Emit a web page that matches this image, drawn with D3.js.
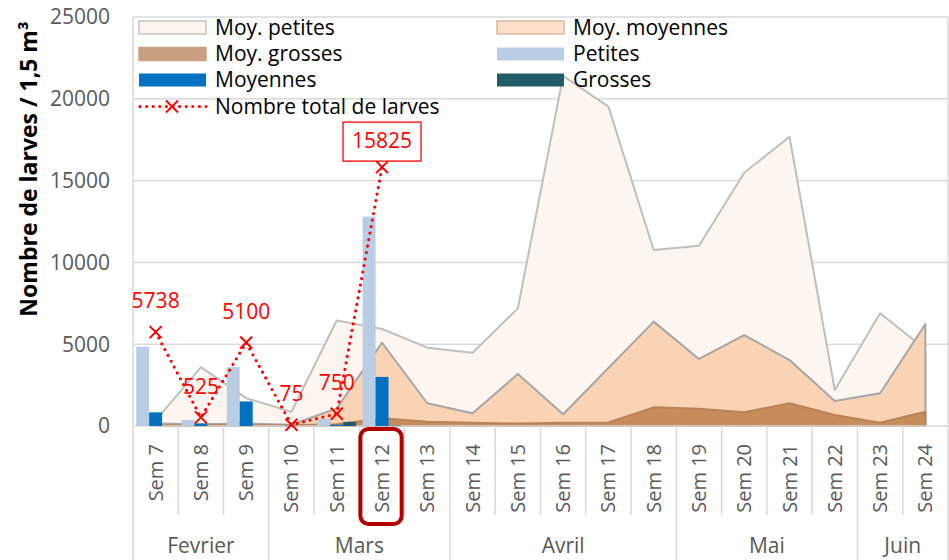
<!DOCTYPE html>
<html>
<head>
<meta charset="utf-8">
<title>Larves</title>
<style>
  body { margin: 0; background: #fff; }
  svg { display: block; font-family: "Open Sans", "Liberation Sans", sans-serif; }
</style>
</head>
<body>
<svg width="949" height="560"></svg>
<script src="https://cdn.jsdelivr.net/npm/d3@7"></script>
<script>
// données
const weeks = ["Sem 7","Sem 8","Sem 9","Sem 10","Sem 11","Sem 12","Sem 13","Sem 14","Sem 15",
  "Sem 16","Sem 17","Sem 18","Sem 19","Sem 20","Sem 21","Sem 22","Sem 23","Sem 24"]
const monthNames = ["Fevrier","Mars","Avril","Mai","Juin"]
const monthWeeks = [3, 4, 5, 4, 2]

const moyPetites = [350, 3600, 1700, 870, 6450, 5930, 4790, 4480, 7190, 21400, 19520, 10760, 11020, 15480, 17680, 2200, 6890, 4690]
const moyMoyennes = [150, 100, 150, 80, 1080, 5090, 1390, 775, 3180, 715, 3545, 6380, 4100, 5560, 4030, 1530, 2000, 6230]
const moyGrosses = [50, 50, 50, 50, 100, 470, 260, 200, 150, 200, 220, 1140, 1060, 840, 1390, 670, 200, 875]

// barres : seulement Sem 7 à Sem 12
const barWeeks = ["Sem 7","Sem 8","Sem 9","Sem 10","Sem 11","Sem 12"]
const petites = [4850, 375, 3600, 50, 425, 12800]
const moyennes = [835, 150, 1500, 25, 75, 3000]
const grosses = [0, 0, 0, 0, 250, 25]
const totalLarves = [5738, 525, 5100, 75, 750, 15825]

const yTicks = [0, 5000, 10000, 15000, 20000, 25000]

const svg = d3.select("svg")
const pLeft = 133, pRight = 948, pTop = 17, pBottom = 426
const grid = "#d9d9d9"
const fs = 21

let x = d3.scaleBand().domain(weeks).range([pLeft, pRight])
let y = d3.scaleLinear().domain([0, 25000]).range([pBottom, pTop])
let xc = w => x(w) + x.bandwidth() / 2
let xs = d3.scaleBand().domain(["p", "m", "g"]).range([3.2, x.bandwidth() - 3.2])

// grille
svg.append("g").selectAll("line").data(yTicks.slice(1)).enter().append("line")
  .attr("x1", pLeft).attr("x2", pRight)
  .attr("y1", d => y(d)).attr("y2", d => y(d))
  .attr("stroke", grid).attr("stroke-width", 1.5)
svg.append("line").attr("x1", pRight).attr("x2", pRight).attr("y1", pTop).attr("y2", pBottom)
  .attr("stroke", grid).attr("stroke-width", 1.5)
svg.append("line").attr("x1", pLeft).attr("x2", pLeft).attr("y1", pTop).attr("y2", pBottom)
  .attr("stroke", grid).attr("stroke-width", 1.5)

// aires (superposées, pas empilées)
let areaMkr = d3.area().x((d, i) => xc(weeks[i])).y0(y(0)).y1(d => y(d))
let areas = [
  { v: moyPetites, fill: "#fdf5ef", stroke: "#bfbfbf" },
  { v: moyMoyennes, fill: "#f9d3b3", stroke: "#a6a6a6" },
  { v: moyGrosses, fill: "#c78c5b", stroke: "#b98358" }
]
svg.append("g").selectAll("path").data(areas).enter().append("path")
  .attr("d", d => areaMkr(d.v))
  .attr("fill", d => d.fill)
  .attr("stroke", d => d.stroke)
  .attr("stroke-width", 2)
  .attr("stroke-linejoin", "round")

// axe des abscisses
svg.append("line").attr("x1", pLeft).attr("x2", pRight).attr("y1", pBottom).attr("y2", pBottom)
  .attr("stroke", grid).attr("stroke-width", 1.5)

// barres groupées
let bars = [
  { v: petites, k: "p", fill: "#b9cde5" },
  { v: moyennes, k: "m", fill: "#0070c0" },
  { v: grosses, k: "g", fill: "#215a68" }
]
bars.forEach(s => {
  svg.append("g").selectAll("rect").data(s.v).enter().append("rect")
    .attr("x", (d, i) => x(barWeeks[i]) + xs(s.k))
    .attr("width", xs.bandwidth())
    .attr("y", d => y(d))
    .attr("height", d => y(0) - y(d))
    .attr("fill", s.fill)
})

// nombre total
let lineMkr = d3.line().x((d, i) => xc(barWeeks[i])).y(d => y(d))
svg.append("path").attr("d", lineMkr(totalLarves))
  .attr("fill", "none").attr("stroke", "#ff0000").attr("stroke-width", 3.2)
  .attr("stroke-dasharray", "0,6.6").attr("stroke-linecap", "round")
let cross = "M-6,-6L6,6M-6,6L6,-6"
svg.append("g").selectAll("path").data(totalLarves).enter().append("path")
  .attr("d", cross)
  .attr("transform", (d, i) => `translate(${xc(barWeeks[i])},${y(d)})`)
  .attr("fill", "none").attr("stroke", "#ff0000").attr("stroke-width", 2)

let last = totalLarves.length - 1
svg.append("rect")
  .attr("x", xc(barWeeks[last]) - 39).attr("y", y(totalLarves[last]) - 45)
  .attr("width", 78).attr("height", 39)
  .attr("fill", "#fff").attr("stroke", "#ff0000").attr("stroke-width", 1.3)
svg.append("g").selectAll("text").data(totalLarves).enter().append("text")
  .attr("x", (d, i) => xc(barWeeks[i]))
  .attr("y", (d, i) => y(d) - (i == last ? 26 : 31))
  .attr("dy", "0.35em")
  .attr("text-anchor", "middle")
  .attr("fill", "#ff0000").attr("font-size", fs)
  .text(d => d)

// axe des ordonnées
svg.append("g").selectAll("text").data(yTicks).enter().append("text")
  .attr("x", 110).attr("y", d => y(d)).attr("dy", "0.35em")
  .attr("text-anchor", "end").attr("fill", "#595959").attr("font-size", fs)
  .text(d => d)
svg.append("text")
  .attr("transform", "translate(37,169) rotate(-90)")
  .attr("text-anchor", "middle").attr("font-weight", "bold").attr("font-size", 23)
  .attr("fill", "#000")
  .text("Nombre de larves / 1,5 m³")

// étiquettes des semaines
svg.append("g").selectAll("text").data(weeks).enter().append("text")
  .attr("transform", d => `translate(${xc(d) + 7},444) rotate(-90)`)
  .attr("text-anchor", "end").attr("fill", "#595959").attr("font-size", 20)
  .text(d => d)

// séparateurs
let monthEdges = [0]
monthWeeks.forEach(n => monthEdges.push(monthEdges[monthEdges.length - 1] + n))
svg.append("g").selectAll("line").data(d3.range(weeks.length + 1)).enter().append("line")
  .attr("x1", i => pLeft + i * x.step()).attr("x2", i => pLeft + i * x.step())
  .attr("y1", pBottom).attr("y2", i => monthEdges.includes(i) ? 560 : 515)
  .attr("stroke", grid).attr("stroke-width", 1.5)

// mois
svg.append("g").selectAll("text").data(monthNames).enter().append("text")
  .attr("x", (d, i) => pLeft + (monthEdges[i] + monthEdges[i + 1]) / 2 * x.step())
  .attr("y", 553)
  .attr("text-anchor", "middle").attr("fill", "#595959").attr("font-size", fs)
  .text(d => d)

// cadre Sem 12
svg.append("rect")
  .attr("x", x("Sem 12") + 1).attr("y", 429)
  .attr("width", x.bandwidth() - 4).attr("height", 95)
  .attr("rx", 8).attr("fill", "none")
  .attr("stroke", "#b00000").attr("stroke-width", 4)

// légende
let legend = [
  { name: "Moy. petites", fill: "#fdf4ee", stroke: "#c8c2bf", col: 0, row: 0 },
  { name: "Moy. moyennes", fill: "#fce0cb", stroke: "#d9b9a4", col: 1, row: 0 },
  { name: "Moy. grosses", fill: "#c9a182", stroke: "#c9a182", col: 0, row: 1 },
  { name: "Petites", fill: "#b9cde5", stroke: "none", col: 1, row: 1 },
  { name: "Moyennes", fill: "#0070c0", stroke: "none", col: 0, row: 2 },
  { name: "Grosses", fill: "#215a68", stroke: "none", col: 1, row: 2 }
]
let colX = [138, 496], rowY = [27.5, 54, 80, 106.5]
let lg = svg.append("g").selectAll("g").data(legend).enter().append("g")
  .attr("transform", d => `translate(${colX[d.col]},${rowY[d.row]})`)
lg.append("rect").attr("x", 1).attr("y", -6.5).attr("width", 67).attr("height", 13)
  .attr("fill", d => d.fill).attr("stroke", d => d.stroke).attr("stroke-width", 1.5)
lg.append("text").attr("x", 77).attr("dy", "0.35em").attr("font-size", fs)
  .attr("fill", "#000").text(d => d.name)

let lt = svg.append("g").attr("transform", `translate(${colX[0]},${rowY[3]})`)
lt.append("line").attr("x1", 2).attr("x2", 68)
  .attr("stroke", "#ff0000").attr("stroke-width", 3.2)
  .attr("stroke-dasharray", "0,6.6").attr("stroke-linecap", "round")
lt.append("path").attr("d", cross).attr("transform", "translate(34,0)")
  .attr("fill", "none").attr("stroke", "#ff0000").attr("stroke-width", 2)
lt.append("text").attr("x", 77).attr("dy", "0.35em").attr("font-size", fs)
  .attr("fill", "#000").text("Nombre total de larves")
</script>
</body>
</html>
